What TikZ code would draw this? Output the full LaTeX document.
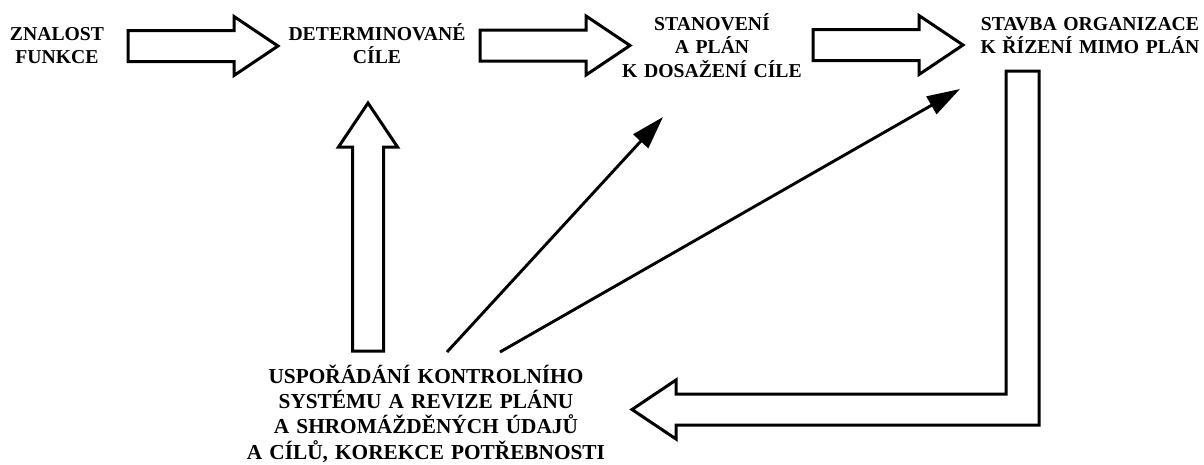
\documentclass[tikz,border=0pt]{standalone}
\usepackage{fontspec}
\setmainfont{Liberation Serif}
\usetikzlibrary{arrows.meta,calc}

\tikzset{
  lbl/.style={font=\bfseries\fontsize{19.7}{23.5}\selectfont, align=center,
    text width=230pt, anchor=base, inner sep=0pt},
  lblbig/.style={lbl, font=\bfseries\fontsize{21.3}{25.4}\selectfont, text width=370pt},
  thinarrow/.style={line width=2.9pt, -{Triangle[length=33pt,width=20pt]}},
  outline/.style={draw=black, line width=3pt, line join=miter, fill=white},
  % straight hollow block arrow from the start point to the tip
  fat/.style={outline,
    to path={let \p1=(\tikztostart), \p2=(\tikztotarget),
      \n1={veclen(\x2-\x1,\y2-\y1)},
      \n2={(\x2-\x1)/\n1}, \n3={(\y2-\y1)/\n1} in
      ({\x1-\n3*15.5pt},{\y1+\n2*15.5pt})
      -- ({\x2-\n2*44pt-\n3*15.5pt},{\y2-\n3*44pt+\n2*15.5pt})
      -- ({\x2-\n2*44pt-\n3*29.5pt},{\y2-\n3*44pt+\n2*29.5pt})
      -- (\p2)
      -- ({\x2-\n2*44pt+\n3*29.5pt},{\y2-\n3*44pt-\n2*29.5pt})
      -- ({\x2-\n2*44pt+\n3*15.5pt},{\y2-\n3*44pt-\n2*15.5pt})
      -- ({\x1+\n3*15.5pt},{\y1-\n2*15.5pt})
      -- cycle}}
}

\begin{document}
\begin{tikzpicture}[x=1pt,y=-1pt]
\useasboundingbox (0,0) rectangle (1204,464);
\fill[white] (0,0) rectangle (1204,464);

% labels
\node[lbl, text width=110pt] (zn) at (57,40) {ZNALOST\\FUNKCE};
\node[lbl, text width=200pt] (dc) at (377,40) {DETERMINOVANÉ\\CÍLE};
\node[lbl, text width=200pt] (sp) at (712,30) {STANOVENÍ\\A PLÁN\\K DOSAŽENÍ CÍLE};
\node[lbl, text width=225pt] (so) at (1090,30) {STAVBA ORGANIZACE\\K ŘÍZENÍ MIMO PLÁN};
\node[lblbig] (uk) at (426,383) {USPOŘÁDÁNÍ KONTROLNÍHO\\SYSTÉMU A REVIZE PLÁNU\\A SHROMÁŽDĚNÝCH ÚDAJŮ\\A CÍLŮ, KOREKCE POTŘEBNOSTI};

% arrow end points
\coordinate (a1s) at (128,46);   \coordinate (a1t) at (278,46);
\coordinate (a2s) at (480,45.5); \coordinate (a2t) at (630,45.5);
\coordinate (a3s) at (813,45);   \coordinate (a3t) at (963,45);
\coordinate (ups) at (368,351);  \coordinate (upt) at (368,103);
\coordinate (t1s) at (447,352);  \coordinate (t1t) at (663,117);
\coordinate (t2s) at (500,352);  \coordinate (t2t) at (960,89);
\coordinate (ls) at (1022.5,71); \coordinate (lt) at (632,409.5);

% block arrows along the top row
\draw[fat] (a1s) to (a1t);
\draw[fat] (a2s) to (a2t);
\draw[fat] (a3s) to (a3t);
% feedback up to the goals
\draw[fat] (ups) to (upt);

% thin arrows from the control system
\draw[thinarrow] (t1s) -- (t1t);
\draw[thinarrow] (t2s) -- (t2t);

% L-shaped return arrow from the organisation down to the control system
\draw[outline] ($(ls)+(-16.5,0)$) -- ($(ls)+(16.5,0)$)
  -- ($(ls |- lt)+(16.5,15.5)$) -- ($(lt)+(44,15.5)$) -- ($(lt)+(44,29.5)$)
  -- (lt) -- ($(lt)+(44,-29.5)$) -- ($(lt)+(44,-15.5)$)
  -- ($(ls |- lt)+(-16.5,-15.5)$) -- cycle;
\end{tikzpicture}
\end{document}
